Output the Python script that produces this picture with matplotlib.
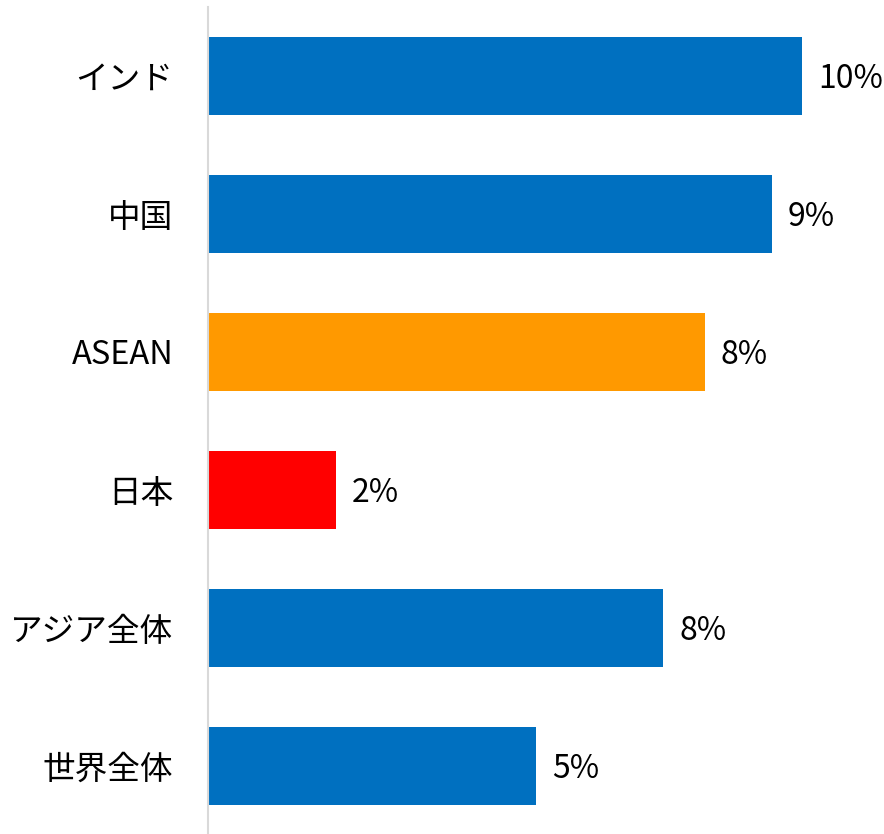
import matplotlib
matplotlib.use("Agg")
import matplotlib.pyplot as plt

plt.rcParams['font.family'] = ['Noto Sans CJK JP', 'DejaVu Sans']

categories = ["インド", "中国", "ASEAN", "日本", "アジア全体", "世界全体"]
values = [10.44, 9.91, 8.73, 2.25, 8.0, 5.76]
value_labels = ["10%", "9%", "8%", "2%", "8%", "5%"]
colors = ["#0070C0", "#0070C0", "#FF9900", "#FF0000", "#0070C0", "#0070C0"]

fig = plt.figure(figsize=(8.84, 8.34), dpi=100)
ax = fig.add_axes([208/884, -1/834, 676/884, 828/834])

y = list(range(len(categories)))
ax.barh(y, values, height=0.565, color=colors, left=0)
ax.set_ylim(5.5, -0.5)
ax.set_xlim(0, 676/56.9)

for yi, v, lab in zip(y, values, value_labels):
    ax.text(v + 16/56.9, yi + 0.02, lab, va='center', ha='left', fontsize=23, color='black')

ax.set_yticks(y)
ax.set_yticklabels(categories, fontsize=23.5)
ax.tick_params(axis='y', length=0, pad=25)
ax.set_xticks([])
for s in ['top', 'right', 'bottom']:
    ax.spines[s].set_visible(False)
ax.spines['left'].set_color('#D9D9D9')
ax.spines['left'].set_linewidth(1.5)

fig.savefig("out.png", dpi=100)
